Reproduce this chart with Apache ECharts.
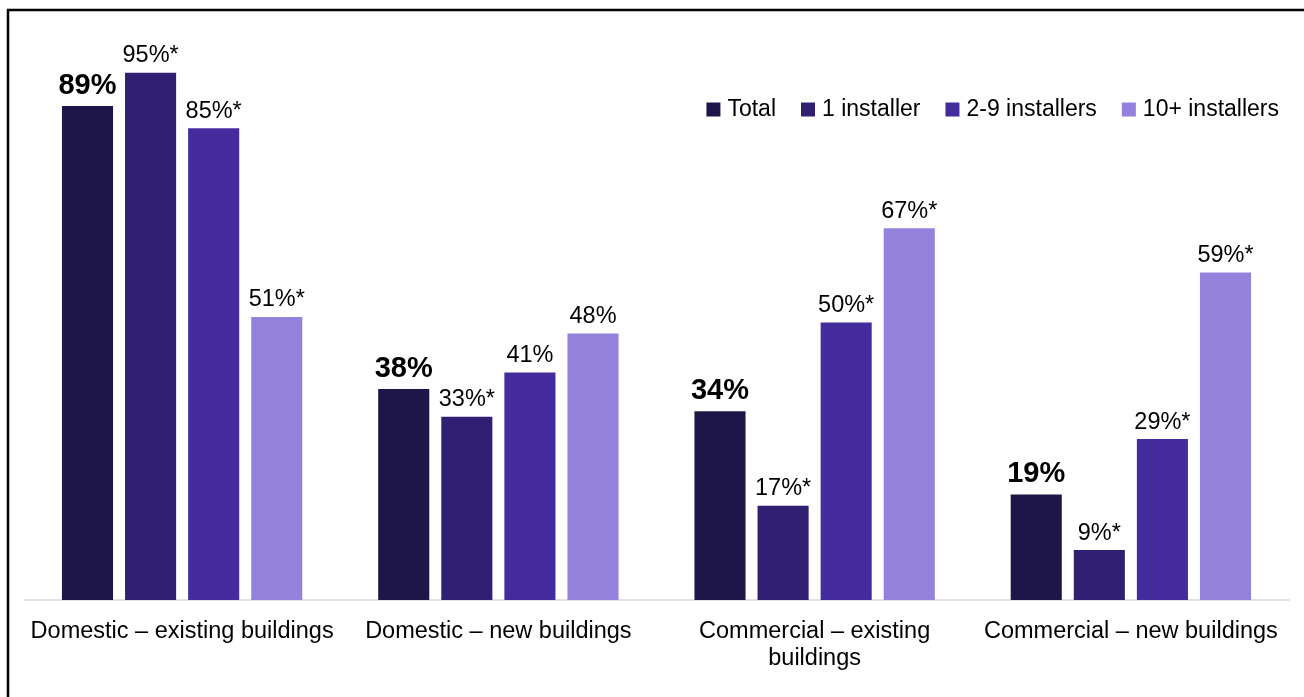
<!DOCTYPE html>
<html>
<head>
<meta charset="utf-8">
<script src="https://cdn.jsdelivr.net/npm/echarts@6/dist/echarts.min.js"></script>
<style>
  html, body { margin: 0; padding: 0; background: #fff; }
  #chart { width: 1304px; height: 697px; }
</style>
</head>
<body>
<div id="chart"></div>
<script>
// Share of installers, by building type and business size
const categories = [
  'Domestic – existing buildings',
  'Domestic – new buildings',
  'Commercial – existing\nbuildings',
  'Commercial – new buildings'
];
const seriesNames = ['Total', '1 installer', '2-9 installers', '10+ installers'];
const totalValues = [89, 38, 34, 19];
const oneInstallerValues = [95, 33, 17, 9];
const twoToNineValues = [85, 41, 50, 29];
const tenPlusValues = [51, 48, 67, 59];
// '*' marks a significant difference from the total
const oneInstallerFlags = [true, true, true, true];
const twoToNineFlags = [true, false, true, true];
const tenPlusFlags = [true, false, true, true];

const colors = ['#1e1548', '#311f74', '#452c9d', '#9481dc'];
const FONT = '"Liberation Sans", Arial, sans-serif';

function subSeries(name, values, flags, color) {
  return {
    name: name,
    type: 'bar',
    data: values,
    itemStyle: { color: color },
    label: {
      show: true,
      position: 'top',
      distance: 5,
      fontFamily: FONT,
      fontSize: 23.5,
      color: '#000',
      formatter: p => p.value + '%' + (flags[p.dataIndex] ? '*' : '')
    }
  };
}

const chart = echarts.init(document.getElementById('chart'));
chart.setOption({
  animation: false,
  backgroundColor: '#fff',
  textStyle: { fontFamily: FONT },
  graphic: [{
    type: 'rect',
    shape: { x: 8, y: 10, width: 1320, height: 720 },
    style: { fill: 'none', stroke: '#000', lineWidth: 2.5 },
    silent: true
  }],
  legend: {
    data: seriesNames,
    top: 93,
    right: 20,
    itemWidth: 14,
    itemHeight: 14,
    itemGap: 25,
    icon: 'rect',
    textStyle: { fontFamily: FONT, fontSize: 23, color: '#000', padding: [0, 0, 0, 2] }
  },
  grid: { left: 24, right: 15, top: 45, bottom: 97, containLabel: false },
  xAxis: {
    type: 'category',
    data: categories,
    axisTick: { show: false },
    axisLine: { lineStyle: { color: '#d9d9d9', width: 1.5 } },
    axisLabel: {
      interval: 0,
      margin: 18,
      fontFamily: FONT,
      fontSize: 23.5,
      color: '#000',
      lineHeight: 27
    }
  },
  yAxis: {
    type: 'value',
    min: 0,
    max: 100,
    show: false,
    splitLine: { show: false }
  },
  series: [
    {
      name: seriesNames[0],
      type: 'bar',
      data: totalValues,
      barGap: '23.5%',
      barCategoryGap: '24%',
      itemStyle: { color: colors[0] },
      label: {
        show: true,
        position: 'top',
        distance: 6,
        fontFamily: FONT,
        fontSize: 29,
        fontWeight: 'bold',
        color: '#000',
        formatter: p => p.value + '%'
      }
    },
    subSeries(seriesNames[1], oneInstallerValues, oneInstallerFlags, colors[1]),
    subSeries(seriesNames[2], twoToNineValues, twoToNineFlags, colors[2]),
    subSeries(seriesNames[3], tenPlusValues, tenPlusFlags, colors[3])
  ]
});
</script>
</body>
</html>
